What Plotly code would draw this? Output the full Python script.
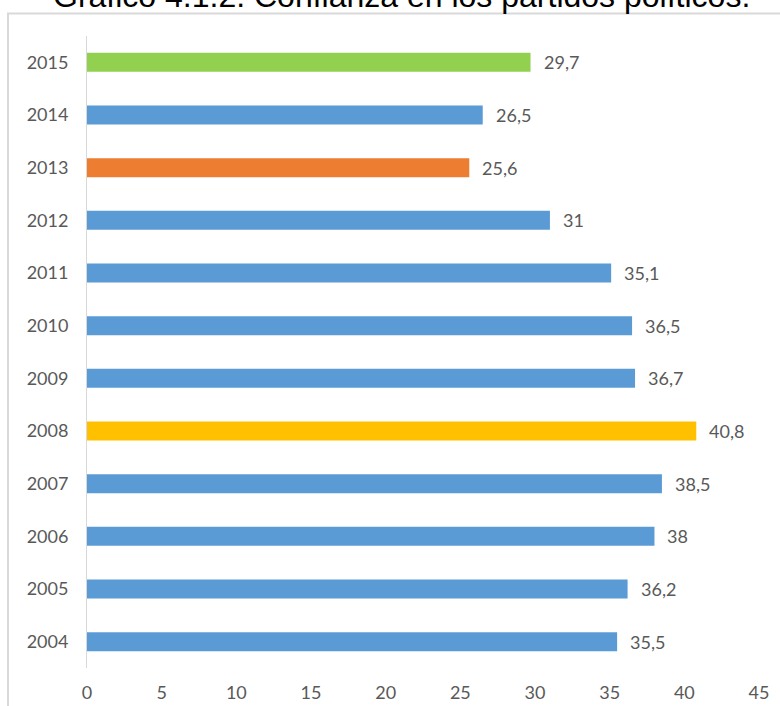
import plotly.graph_objects as go

years = ["2004", "2005", "2006", "2007", "2008", "2009", "2010", "2011", "2012", "2013", "2014", "2015"]
values = [35.5, 36.2, 38.0, 38.5, 40.8, 36.7, 36.5, 35.1, 31.0, 25.6, 26.5, 29.7]
colors = ["#5B9BD5", "#5B9BD5", "#5B9BD5", "#5B9BD5", "#FFC000", "#5B9BD5",
          "#5B9BD5", "#5B9BD5", "#5B9BD5", "#ED7D31", "#5B9BD5", "#92D050"]
x_ticks = [0, 5, 10, 15, 20, 25, 30, 35, 40, 45]
title_text = "Gráfico 4.1.2. Confianza en los partidos políticos."

labels = [f"{v:g}".replace(".", ",") for v in values]

W, H = 780, 706
ml, mr, mt, mb = 87, 21, 35.6, 37.6
pw, ph = W - ml - mr, H - mt - mb

def px_x(p):
    return (p - ml) / pw

def px_y(p):
    return 1 - (p - mt) / ph

label_font = dict(family="Lato", size=18, color="#595959")

fig = go.Figure()
fig.add_trace(go.Bar(
    x=values, y=years, orientation="h",
    marker=dict(color=colors, line=dict(width=0)),
    width=0.36, hoverinfo="skip",
))

annotations = []
for i, (v, t) in enumerate(zip(values, labels)):
    annotations.append(dict(
        x=v, y=i, xref="x", yref="y", text=t, showarrow=False,
        xanchor="left", yanchor="middle", xshift=11, font=label_font,
    ))
annotations.append(dict(
    x=px_x(401), y=px_y(16), xref="paper", yref="paper", text=title_text,
    showarrow=False, xanchor="center", yanchor="bottom",
    font=dict(family="Liberation Sans, Arial", size=32, color="#000000"),
))

fig.update_layout(
    width=W, height=H,
    margin=dict(l=ml, r=mr, t=mt, b=mb, pad=0, autoexpand=False),
    paper_bgcolor="white", plot_bgcolor="white",
    showlegend=False,
    annotations=annotations,
    shapes=[dict(
        type="rect", xref="paper", yref="paper",
        x0=px_x(8), x1=px_x(800), y0=px_y(730), y1=px_y(13),
        line=dict(color="#d9d9d9", width=2), fillcolor="rgba(0,0,0,0)",
        layer="below",
    )],
    xaxis=dict(
        range=[0, 45], tickvals=x_ticks, ticktext=[str(t) for t in x_ticks],
        showgrid=False, zeroline=False, showline=False, ticks="",
        tickfont=label_font, ticklabelstandoff=12, automargin=False,
    ),
    yaxis=dict(
        type="category",
        categoryorder="array", categoryarray=years, range=[-0.5, 11.5],
        showgrid=False, zeroline=False, showline=True, linecolor="#d9d9d9",
        linewidth=1, ticks="", tickfont=label_font, ticklabelstandoff=14,
        automargin=False,
    ),
)

fig.write_html("out.html")
